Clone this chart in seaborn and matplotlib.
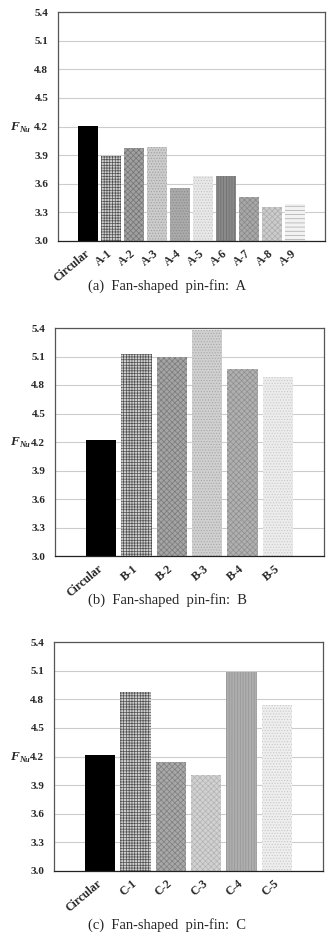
import matplotlib
matplotlib.use("Agg")
import matplotlib.pyplot as plt
import seaborn as sns
import pandas as pd

cats_a = ["Circular", "A-1", "A-2", "A-3", "A-4", "A-5", "A-6", "A-7", "A-8", "A-9"]
vals_a = [4.21, 3.89, 3.97, 3.99, 3.56, 3.68, 3.68, 3.46, 3.36, 3.39]
cats_b = ["Circular", "B-1", "B-2", "B-3", "B-4", "B-5"]
vals_b = [4.22, 5.13, 5.10, 5.38, 4.97, 4.88]
cats_c = ["Circular", "C-1", "C-2", "C-3", "C-4", "C-5"]
vals_c = [4.22, 4.88, 4.14, 4.01, 5.09, 4.74]
captions = ["(a)  Fan-shaped  pin-fin:  A", "(b)  Fan-shaped  pin-fin:  B",
            "(c)  Fan-shaped  pin-fin:  C"]
yticks = [3.0, 3.3, 3.6, 3.9, 4.2, 4.5, 4.8, 5.1, 5.4]

# (face, hatch, hatch color)
styles_a = [("#000000", "", "#000000"), ("#d0d0d0", "+" * 6, "#505050"),
            ("#a0a0a0", "x" * 6, "#747474"), ("#cccccc", "." * 6, "#a0a0a0"),
            ("#aaaaaa", "." * 6, "#8c8c8c"), ("#e8e8e8", "." * 6, "#c4c4c4"),
            ("#8a8a8a", "|" * 6, "#6c6c6c"), ("#a8a8a8", "x" * 6, "#888888"),
            ("#cccccc", "x" * 6, "#acacac"), ("#f2f2f2", "-" * 4, "#a8a8a8")]
styles_b = [("#cccccc", "", "#000000"), ("#d0d0d0", "+" * 6, "#505050"),
            ("#a4a4a4", "x" * 6, "#7a7a7a"), ("#d0d0d0", "." * 6, "#a8a8a8"),
            ("#b0b0b0", "x" * 6, "#8e8e8e"), ("#ececec", "." * 6, "#cacaca")]
styles_b[0] = ("#000000", "", "#000000")
styles_c = [("#000000", "", "#000000"), ("#d0d0d0", "+" * 6, "#505050"),
            ("#a8a8a8", "x" * 6, "#7e7e7e"), ("#d2d2d2", "x" * 6, "#b2b2b2"),
            ("#aeaeae", "|" * 6, "#949494"), ("#eeeeee", "." * 6, "#c8c8c8")]

sns.set_theme(style="white")
plt.rcParams["font.family"] = ["Liberation Serif", "DejaVu Serif"]
plt.rcParams["hatch.linewidth"] = 0.5

W, H = 329, 943
fig = plt.figure(figsize=(W / 100, H / 100), dpi=100)

boxes = [(58, 12, 325, 241), (55, 328, 324, 556), (54, 642, 323, 871)]
caption_y = [286, 600, 925]
datasets = [(cats_a, vals_a, styles_a), (cats_b, vals_b, styles_b), (cats_c, vals_c, styles_c)]

for (l, t, r, b), cy, (cats, vals, styles), cap in zip(boxes, caption_y, datasets, captions):
    ax = fig.add_axes([l / W, 1 - b / H, (r - l) / W, (b - t) / H])
    df = pd.DataFrame({"cat": cats, "val": vals})
    sns.barplot(data=df, x="cat", y="val", hue="cat", legend=False,
                palette=[s[0] for s in styles], width=0.86, ax=ax, saturation=1)
    for p, (fc, hatch, hc) in zip(ax.patches, styles):
        p.set_facecolor(fc)
        p.set_hatch(hatch)
        p.set_edgecolor(hc)
        p.set_linewidth(0)
        p.set_zorder(2)
    ax.set_ylim(3.0, 5.4)
    ax.set_xlim(-1.3, len(cats) - 1 + 1.3)
    ax.set_yticks(yticks)
    ax.set_yticklabels([f"{v:.1f}" for v in yticks], fontsize=8, fontweight="bold")
    ax.set_axisbelow(True)
    ax.yaxis.grid(True, color="#cccccc", linewidth=0.8)
    ax.xaxis.grid(False)
    ax.tick_params(axis="y", length=0, pad=7)
    ax.set_xticks(range(len(cats)))
    ax.set_xticklabels(cats, rotation=40, ha="right", va="center",
                       rotation_mode="anchor", fontsize=8.5, fontweight="bold")
    ax.tick_params(axis="x", length=0, pad=8)
    for sp in ax.spines.values():
        sp.set_visible(True)
        sp.set_color("#555555")
        sp.set_linewidth(0.9)
    ax.spines["bottom"].set_color("#222222")
    ax.set_xlabel("")
    ax.set_ylabel("")
    fy = 1 - ((b - t) * (5.4 - 4.2) / 2.4 + t) / H
    fig.text(10 / W, fy, "F", fontsize=9.5, ha="left", va="center",
             fontstyle="italic", fontweight="bold")
    fig.text(19.5 / W, fy - 3 / H, "Nu", fontsize=6, ha="left", va="center",
             fontstyle="italic", fontweight="bold")
    fig.text(167 / W, 1 - cy / H, cap, fontsize=10.5, ha="center", va="center")

fig.savefig("out.png", dpi=100)
